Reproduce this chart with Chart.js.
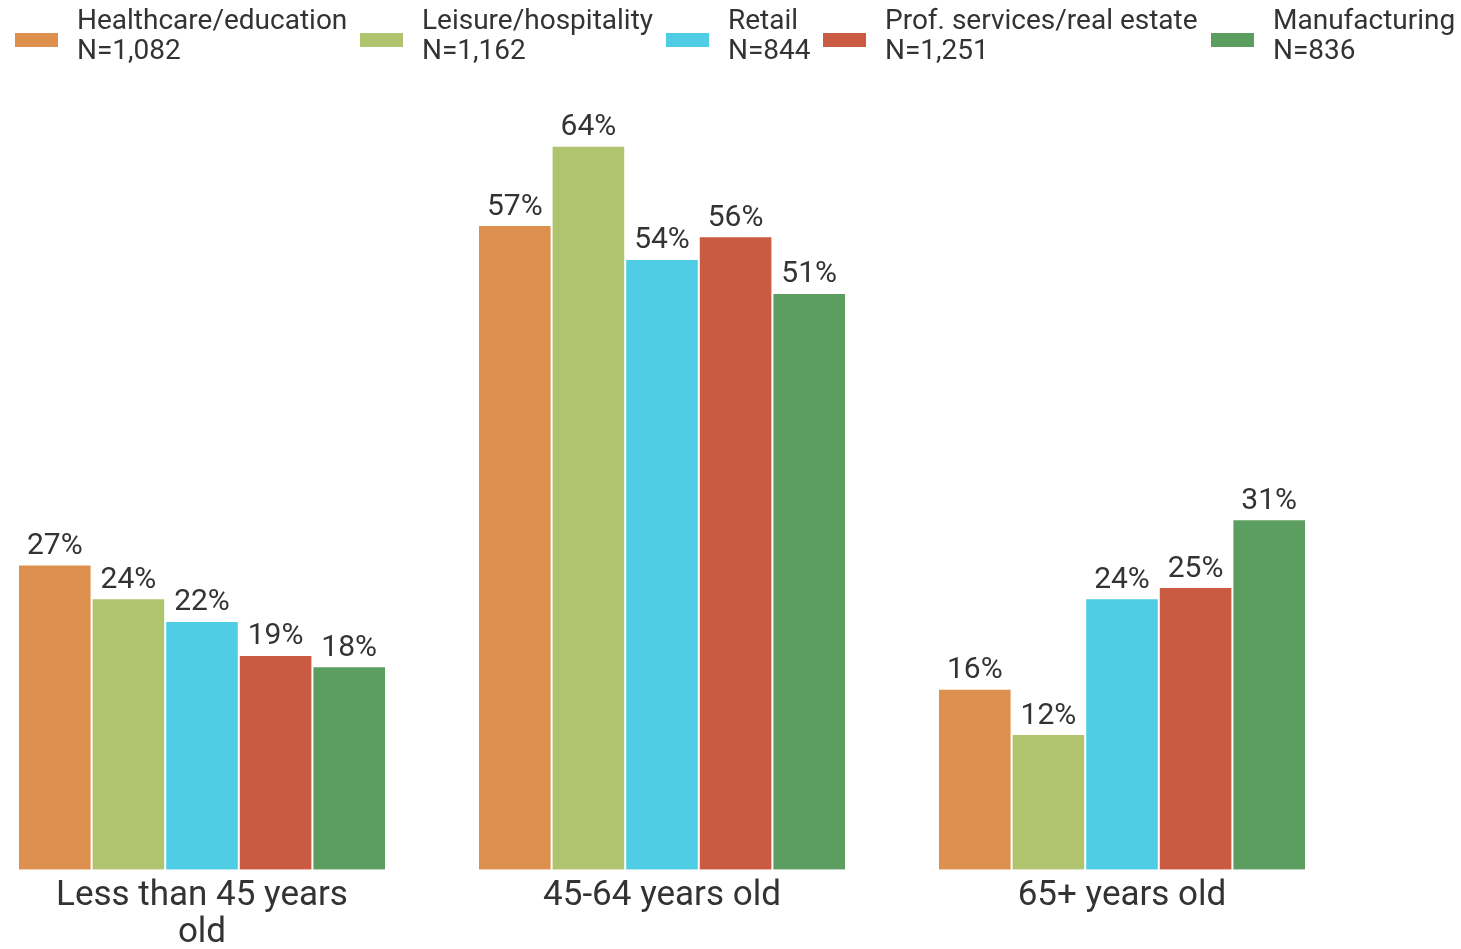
<!DOCTYPE html>
<html>
<head>
<meta charset="utf-8">
<script src="https://cdn.jsdelivr.net/npm/chart.js@4"></script>
<style>
  html, body { margin: 0; padding: 0; background: #fff; }
  body { width: 1461px; height: 949px; position: relative; overflow: hidden; font-family: Roboto, "Noto Sans", sans-serif; }
  #wrap { position: absolute; left: -28px; top: 0; width: 1380px; height: 952px; }
  #legend { position: absolute; left: 0; top: 0; width: 1461px; height: 80px; }
  .item { position: absolute; top: 5px; color: #333; font-size: 28px; line-height: 30px; white-space: nowrap; }
  .box { position: absolute; width: 43px; height: 14px; top: 33px; }
</style>
</head>
<body>
<div id="wrap"><canvas id="ageChart"></canvas></div>
<div id="legend"></div>
<script>
const categories = [["Less than 45 years", "old"], "45-64 years old", "65+ years old"];
const industries = ["Healthcare/education", "Leisure/hospitality", "Retail", "Prof. services/real estate", "Manufacturing"];
const sampleSizes = ["N=1,082", "N=1,162", "N=844", "N=1,251", "N=836"];
const healthcare = [27, 57, 16];
const leisure = [24, 64, 12];
const retail = [22, 54, 24];
const profServices = [19, 56, 25];
const manufacturing = [18, 51, 31];

const colors = ["#DD8F4D", "#B0C36F", "#4FCDE4", "#C95B42", "#5C9E60"];
const legendX = [15, 360, 666, 823, 1211];

const seriesValues = [healthcare, leisure, retail, profServices, manufacturing];

// value labels on top of each bar
const barLabels = {
  id: 'barLabels',
  afterDatasetsDraw(chart) {
    const ctx = chart.ctx;
    ctx.save();
    ctx.font = '30px Roboto';
    ctx.fillStyle = '#333';
    ctx.textAlign = 'center';
    ctx.textBaseline = 'bottom';
    chart.data.datasets.forEach((ds, i) => {
      chart.getDatasetMeta(i).data.forEach((bar, j) => {
        ctx.fillText(ds.data[j] + '%', bar.x, bar.y - 3);
      });
    });
    ctx.restore();
  }
};

const ctx = document.getElementById("ageChart").getContext("2d");
const chart = new Chart(ctx, {
  type: 'bar',
  data: {
    labels: categories,
    datasets: industries.map((name, i) => ({
      label: name,
      data: seriesValues[i],
      backgroundColor: colors[i],
      borderColor: 'rgba(255,255,255,0.3)',
      borderWidth: 1,
      categoryPercentage: 0.8,
      barPercentage: 1.0
    }))
  },
  options: {
    responsive: true,
    maintainAspectRatio: false,
    animation: false,
    layout: { padding: { top: 78, left: 0, right: 0, bottom: 0 } },
    plugins: {
      legend: { display: false },
      tooltip: { enabled: false }
    },
    scales: {
      x: {
        grid: { display: false },
        border: { display: false },
        ticks: {
          color: '#333',
          font: { family: 'Roboto', size: 35, lineHeight: 1.06 },
          padding: 0,
          maxRotation: 0,
          autoSkip: false
        }
      },
      y: {
        display: false,
        min: 0,
        max: 70
      }
    }
  },
  plugins: [barLabels]
});

// legend as html
const legend = document.getElementById("legend");
industries.forEach((name, i) => {
  const box = document.createElement("div");
  box.className = "box";
  box.style.left = legendX[i] + "px";
  box.style.background = colors[i];
  legend.appendChild(box);
  const txt = document.createElement("div");
  txt.className = "item";
  txt.style.left = (legendX[i] + 62) + "px";
  txt.innerHTML = name + "<br>" + sampleSizes[i];
  legend.appendChild(txt);
});
</script>
</body>
</html>
